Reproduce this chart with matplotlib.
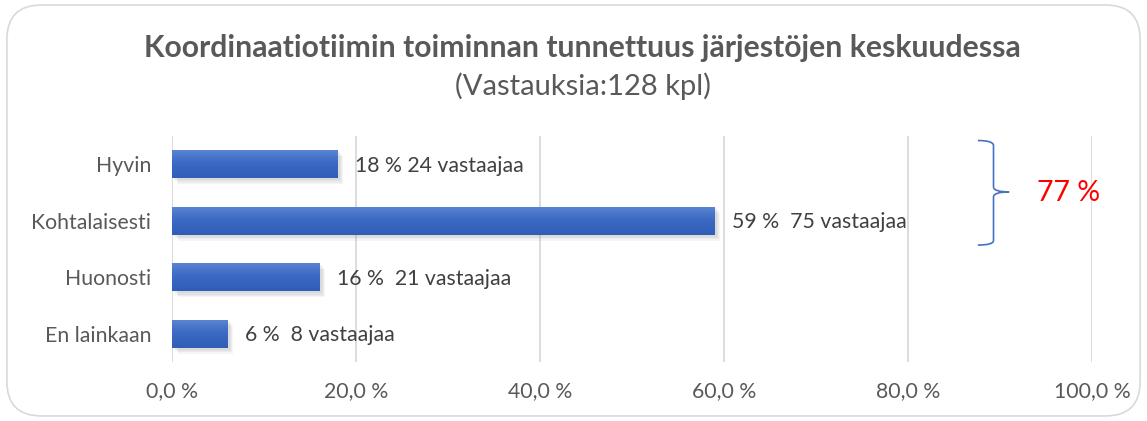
import matplotlib
matplotlib.use('Agg')
import matplotlib.pyplot as plt
from matplotlib.patches import FancyBboxPatch, PathPatch
from matplotlib.path import Path
from matplotlib.colors import LinearSegmentedColormap
import numpy as np

plt.rcParams['font.family'] = ['Lato', 'DejaVu Sans']

categories = ['Hyvin', 'Kohtalaisesti', 'Huonosti', 'En lainkaan']
percent = [18, 59, 16, 6]
labels = ['18 % 24 vastaajaa', '59 %  75 vastaajaa', '16 %  21 vastaajaa', '6 %  8 vastaajaa']
xticks = [0, 20, 40, 60, 80, 100]
xticklabels = ['0,0 %', '20,0 %', '40,0 %', '60,0 %', '80,0 %', '100,0 %']
total_text = '77 %'

fig = plt.figure(figsize=(11.47, 4.21), dpi=100)

# rounded frame round the chart
frame = FancyBboxPatch((0.006, 0.012), 0.988, 0.976, boxstyle='round,pad=0,rounding_size=0.03',
                       transform=fig.transFigure, facecolor='white', edgecolor='#d9d9d9',
                       linewidth=1.2, mutation_aspect=11.47 / 4.21, zorder=-10)
fig.patches.append(frame)

ax = fig.add_axes([0.15, 0.140, 0.802, 0.537])
ax.set_facecolor('none')
ax.set_zorder(2)

y = np.arange(len(categories))
bar_h = 0.5
# soft shadow below the bars
for k in range(4):
    off = 0.03 + 0.025 * k
    ax.barh(y + off, percent, height=bar_h, left=0.25 + 0.12 * k, color='#808080', alpha=0.08,
            zorder=2, linewidth=0)

grad = LinearSegmentedColormap.from_list('bar', ['#5b86d2', '#3a68c2', '#2f5db7'])
bars = ax.barh(y, percent, height=bar_h, color='none', zorder=3, linewidth=0)
g = np.linspace(0, 1, 64).reshape(-1, 1)
for b in bars:
    x0, y0 = b.get_x(), b.get_y()
    w, h = b.get_width(), b.get_height()
    im = ax.imshow(g, cmap=grad, aspect='auto', extent=(x0, x0 + w, y0 + h, y0),
                   zorder=3, interpolation='bilinear')
    im.set_clip_path(b)

for yi, v, lab in zip(y, percent, labels):
    ax.text(v + 1.9, yi + 0.03, lab, va='center', ha='left', fontsize=15.3, color='#404040')

ax.set_xlim(0, 100)
ax.set_ylim(3.5, -0.5)
ax.set_yticks(y)
ax.set_yticklabels(categories, fontsize=15.3, color='#595959')
ax.set_xticks(xticks)
ax.set_xticklabels(xticklabels, fontsize=15.3, color='#595959')
ax.tick_params(length=0)
ax.tick_params(axis='y', pad=15)
ax.tick_params(axis='x', pad=14)
ax.grid(axis='x', color='#d9d9d9', linewidth=1.3, zorder=0)
ax.set_axisbelow(True)
for s in ax.spines.values():
    s.set_visible(False)

# brace marking Hyvin + Kohtalaisesti
x0, xs, xt = 87.6, 89.3, 91.0
verts = [(x0, -0.42), (xs, -0.42), (xs, -0.33),
         (xs, 0.40), (xs, 0.49), (xt, 0.49),
         (xs, 0.49), (xs, 0.58),
         (xs, 1.35), (xs, 1.43), (x0, 1.43)]
codes = [Path.MOVETO, Path.CURVE3, Path.CURVE3,
         Path.LINETO, Path.CURVE3, Path.CURVE3,
         Path.CURVE3, Path.CURVE3,
         Path.LINETO, Path.CURVE3, Path.CURVE3]
brace = PathPatch(Path(verts, codes), facecolor='none', edgecolor='#4472c4',
                  linewidth=1.2, clip_on=False)
ax.add_patch(brace)
ax.text(94.0, 0.5, total_text, color='#ff0000', fontsize=20.5, va='center', ha='left')

fig.text(0.508, 0.885, 'Koordinaatiotiimin toiminnan tunnettuus järjestöjen keskuudessa',
         ha='center', va='center', fontsize=21.7, fontweight='bold', color='#595959')
fig.text(0.508, 0.795, '(Vastauksia:128 kpl)', ha='center', va='center', fontsize=21, color='#595959')

fig.savefig('out.png', dpi=100)
